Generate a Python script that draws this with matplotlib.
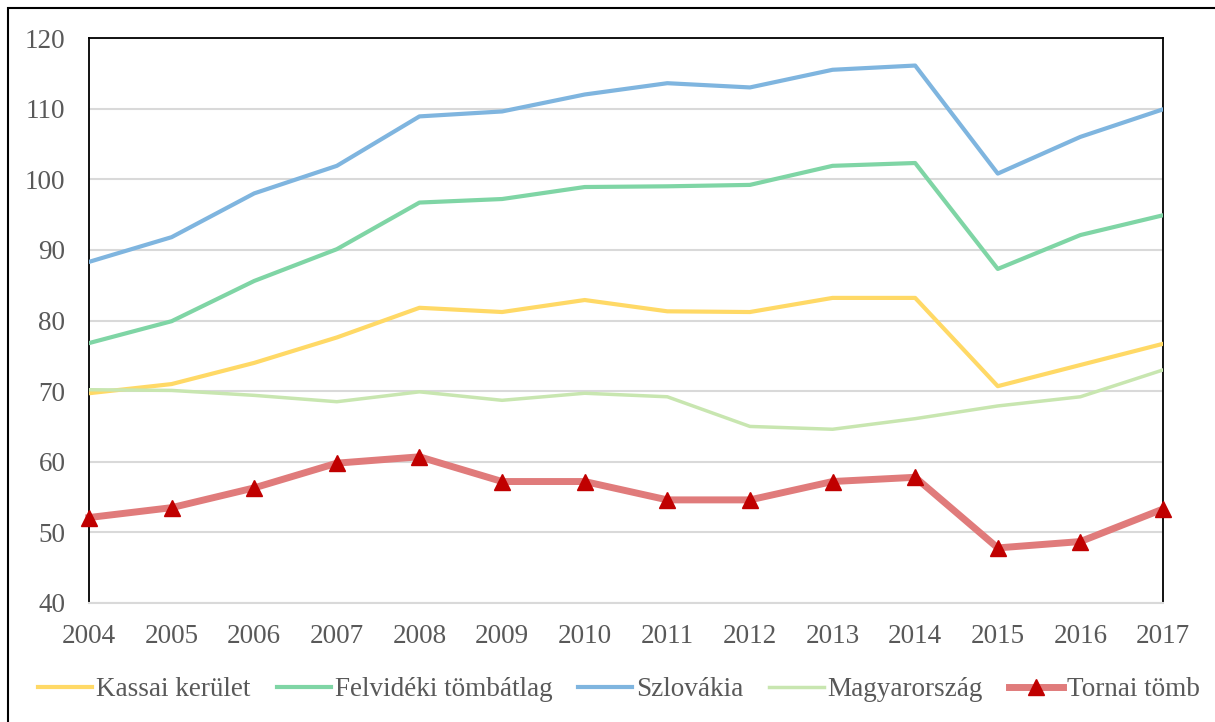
import matplotlib.pyplot as plt
import matplotlib.patches as patches

years = list(range(2004, 2018))
kassai = [69.7, 71.0, 74.0, 77.6, 81.8, 81.2, 82.9, 81.3, 81.2, 83.2, 83.2, 70.7, 73.7, 76.7]
felvideki = [76.8, 79.9, 85.6, 90.1, 96.7, 97.2, 98.9, 99.0, 99.2, 101.9, 102.3, 87.3, 92.1, 94.9]
szlovakia = [88.3, 91.8, 98.0, 101.9, 108.9, 109.6, 112.0, 113.6, 113.0, 115.5, 116.1, 100.8, 106.0, 109.9]
magyar = [70.2, 70.1, 69.4, 68.5, 69.9, 68.7, 69.7, 69.2, 65.0, 64.6, 66.1, 67.9, 69.2, 73.0]
tornai = [52.1, 53.5, 56.3, 59.8, 60.7, 57.2, 57.2, 54.6, 54.6, 57.2, 57.8, 47.8, 48.7, 53.3]

plt.rcParams['font.family'] = ['Liberation Serif', 'DejaVu Serif']
txt = "#595959"
fs = 19.5

fig = plt.figure(figsize=(12.15, 7.22), dpi=100)
ax = fig.add_axes([89 / 1215, 1 - 603 / 722, 1074 / 1215, 565 / 722])

ax.plot(years, kassai, color="#FFD966", lw=3, label="Kassai kerület", zorder=3)
ax.plot(years, felvideki, color="#7FD5A5", lw=3, label="Felvidéki tömbátlag", zorder=3)
ax.plot(years, szlovakia, color="#7FB5DF", lw=3, label="Szlovákia", zorder=3)
ax.plot(years, magyar, color="#C8E6B0", lw=2.5, label="Magyarország", zorder=3)
ax.plot(years, tornai, color="#E07B7B", lw=5, marker="^", markersize=11,
        markerfacecolor="#C00000", markeredgecolor="#C00000", label="Tornai tömb",
        zorder=4, clip_on=False)

ax.set_xlim(2004, 2017)
ax.set_ylim(40, 120)
ax.set_xticks(years)
ax.set_yticks(range(40, 121, 10))
ax.yaxis.grid(True, color="#D9D9D9", lw=1.5)
ax.set_axisbelow(True)
ax.tick_params(length=0, labelsize=fs, labelcolor=txt)
ax.tick_params(axis="y", pad=17)
ax.tick_params(axis="x", pad=15)
for s in ["top", "left", "right"]:
    ax.spines[s].set_color("black")
    ax.spines[s].set_linewidth(1.3)
ax.spines["bottom"].set_color("#D9D9D9")
ax.spines["bottom"].set_linewidth(1.5)

fig.legend(loc="center", bbox_to_anchor=(619 / 1215, 1 - 690 / 722), ncol=5, frameon=False,
           fontsize=fs, labelcolor=txt, handlelength=2.0, handletextpad=0.15,
           columnspacing=0.95)

fig.patches.append(patches.Rectangle((8 / 1215, -0.1), 1.2, 1.1 - 8 / 722,
                                     transform=fig.transFigure, fill=False,
                                     edgecolor="black", lw=1.5, clip_on=False))

fig.savefig("out.png", dpi=100)
